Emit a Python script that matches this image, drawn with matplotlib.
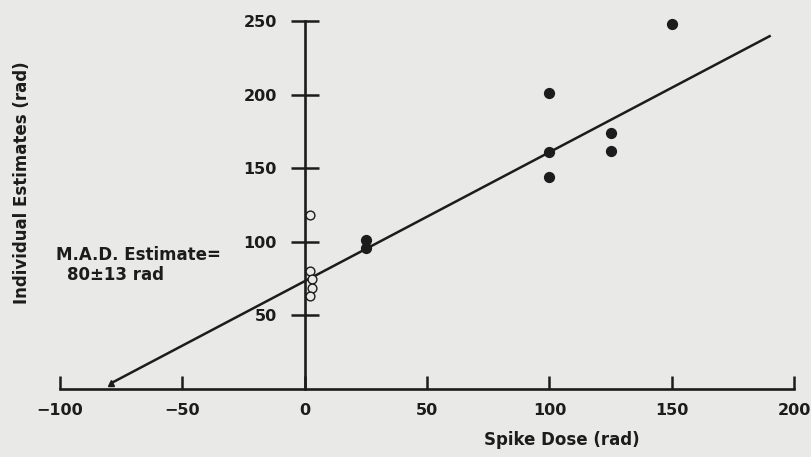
import matplotlib.pyplot as plt

# Spike-dose calibration data (rad)
spike_filled = [25, 25, 100, 100, 100, 125, 125, 150]
est_filled = [101, 96, 201, 161, 144, 174, 162, 248]

spike_open = [2, 2, 3, 3, 2]
est_open = [118, 80, 75, 69, 63]

# fitted line, ends at the M.A.D. intercept
fit_x = [-79, 190]
fit_y = [4, 240]

x_ticks = [-100, -50, 0, 50, 100, 150, 200]
y_ticks = [50, 100, 150, 200, 250]

ink = '#1c1c1c'
paper = '#e9e9e7'

plt.rcParams['font.family'] = ['DejaVu Sans']

fig = plt.figure(figsize=(8.11, 4.57), dpi=100, facecolor=paper)
ax = fig.add_axes([0, 0, 1, 1])
ax.set_facecolor(paper)

# data limits chosen so the axes sit where the page layout wants them
ax.set_xlim(-124.5, 206.9)
ax.set_ylim(-46.3, 264.6)

for side in ['top', 'right']:
    ax.spines[side].set_visible(False)
ax.spines['left'].set_position(('data', 0))
ax.spines['bottom'].set_position(('data', 0))
ax.spines['left'].set_bounds(0, 250)
ax.spines['bottom'].set_bounds(-100, 200)
for side in ['left', 'bottom']:
    ax.spines[side].set_linewidth(1.9)
    ax.spines[side].set_color(ink)

ax.set_xticks(x_ticks)
ax.set_yticks(y_ticks)
ax.tick_params(axis='x', direction='in', length=9.5, width=1.8, color=ink,
               pad=10, labelsize=11.5, labelcolor=ink)
ax.tick_params(axis='y', direction='inout', length=20, width=1.8, color=ink,
               pad=10, labelsize=11.5, labelcolor=ink)
for lab in ax.get_xticklabels() + ax.get_yticklabels():
    lab.set_fontweight('bold')

ax.plot(fit_x, fit_y, color=ink, lw=1.8, zorder=3)
ax.plot(fit_x[0], fit_y[0], marker='^', ms=5, color=ink, zorder=4)

ax.scatter(spike_filled, est_filled, s=50, color=ink, zorder=5)
ax.scatter(spike_open, est_open, s=40, facecolors=paper, edgecolors=ink,
           linewidths=1.0, zorder=4)

ax.text(-101.6, 91, 'M.A.D. Estimate=', fontsize=12, fontweight='bold',
        color=ink, va='center', ha='left')
ax.text(-97, 77.5, '80\u00b113 rad', fontsize=12, fontweight='bold',
        color=ink, va='center', ha='left')

fig.text(0.027, 0.60, 'Individual Estimates (rad)', rotation=90,
         fontsize=12, fontweight='bold', color=ink, ha='center', va='center')
fig.text(0.693, 0.037, 'Spike Dose (rad)', fontsize=12, fontweight='bold',
         color=ink, ha='center', va='center')

fig.savefig('out.png', dpi=100, facecolor=paper)
